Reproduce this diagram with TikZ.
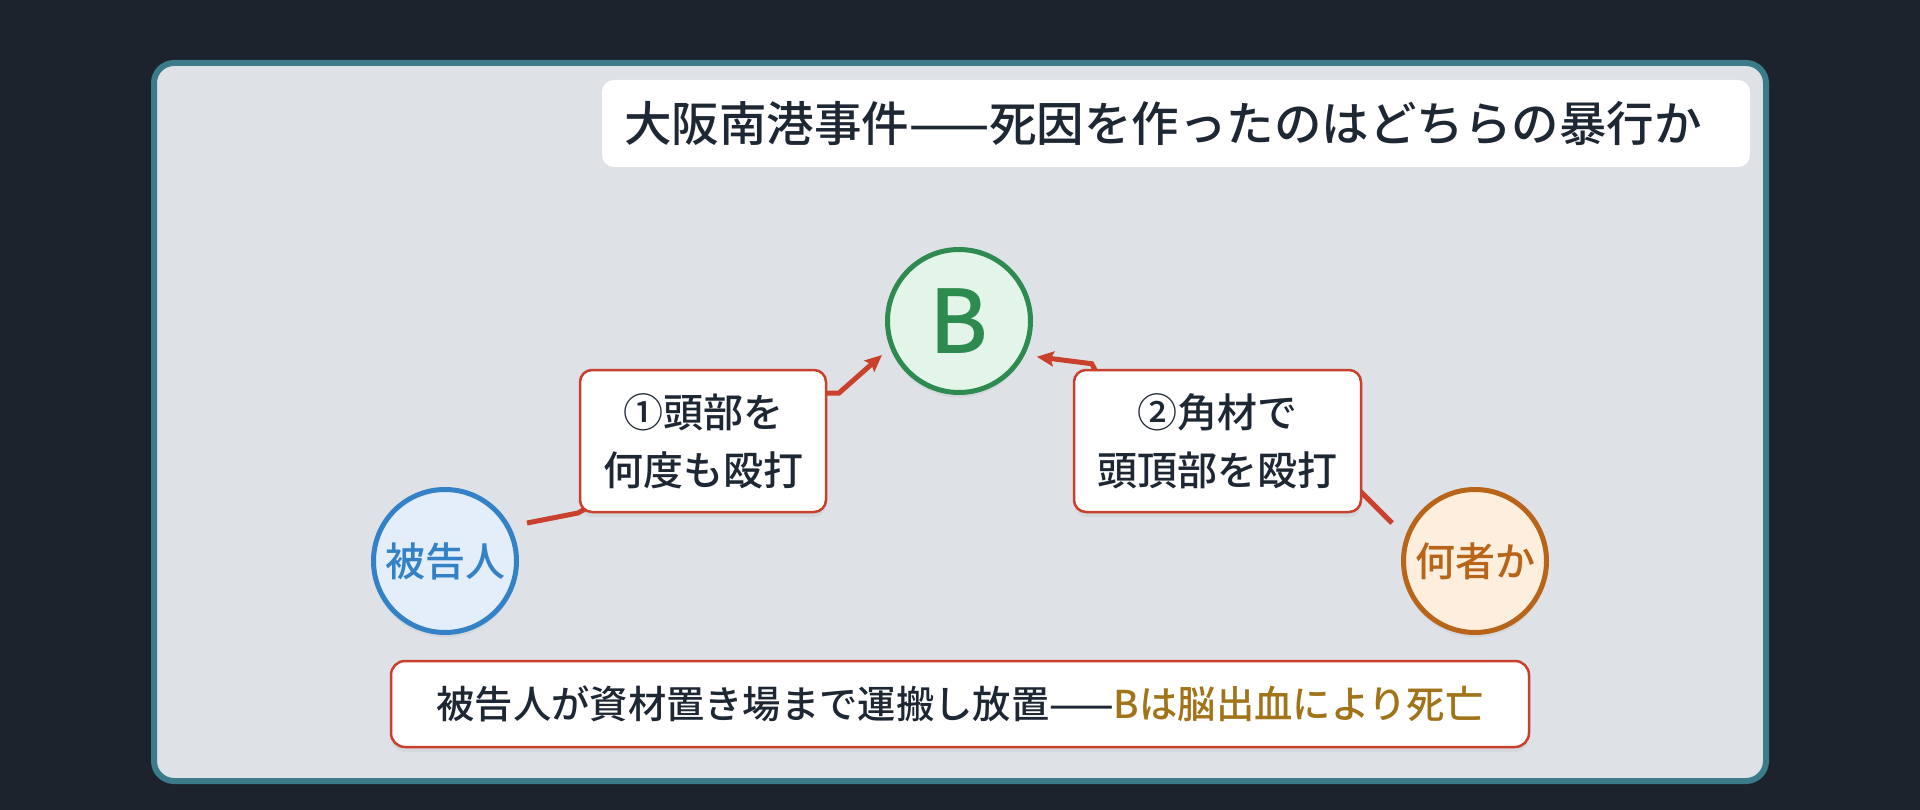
\documentclass[tikz,border=0pt]{standalone}
\usepackage{fontspec}
\IfFontExistsTF{Noto Sans CJK JP Medium}
  {\setmainfont{Noto Sans CJK JP Medium}}
  {\setmainfont{Noto Sans CJK JP}}
\usetikzlibrary{arrows.meta,shadows}
\definecolor{bgc}{HTML}{1C232D}
\definecolor{panel}{HTML}{DEE1E6}
\definecolor{framec}{HTML}{3B7B8A}
\definecolor{ink}{HTML}{1E2835}
\definecolor{redc}{HTML}{C9412C}
\definecolor{greenc}{HTML}{2E8B50}
\definecolor{greenf}{HTML}{E3F5E9}
\definecolor{bluec}{HTML}{3381C6}
\definecolor{bluef}{HTML}{E4EEFA}
\definecolor{orangec}{HTML}{B8651A}
\definecolor{orangef}{HTML}{FDEEDD}
\definecolor{goldc}{HTML}{A27419}
\pgfdeclarelayer{back}
\pgfdeclarelayer{conn}
\pgfsetlayers{back,conn,main}
\begin{document}
\begin{tikzpicture}[x=1pt,y=-1pt,
  softshadow/.style={general shadow={fill=black,opacity=0.045,shadow xshift=0pt,shadow yshift=-5pt}},
  titlebox/.style={fill=white,rounded corners=12pt,minimum width=1148pt,minimum height=87pt,inner xsep=0pt,inner ysep=0pt,
    text width=1104pt,align=left,text=ink,font=\fontsize{47.5pt}{50pt}\selectfont},
  labelbox/.style={softshadow,draw=redc,line width=2.5pt,fill=white,rounded corners=12pt,minimum height=142pt,inner sep=0pt,
    align=center,text=ink,font=\fontsize{40pt}{58pt}\selectfont},
  notebox/.style={softshadow,draw=redc,line width=2.5pt,fill=white,rounded corners=14pt,minimum width=1138pt,minimum height=86pt,inner sep=0pt,
    text=ink,font=\fontsize{38.3pt}{44pt}\selectfont},
  person/.style={softshadow,circle,line width=5pt,minimum size=143pt,inner sep=0pt,font=\fontsize{40pt}{44pt}\selectfont},
  conn/.style={draw=redc,line width=5pt,line join=miter},
  arrowconn/.style={conn,-{Stealth[length=17pt,width=15pt,inset=3pt]}}
]
\begin{pgfonlayer}{back}
\fill[bgc] (0,0) rectangle (1920,810);
\draw[framec,line width=6pt,fill=panel,rounded corners=20pt] (154,63) rectangle (1766,781);
\end{pgfonlayer}
\useasboundingbox (0,0) rectangle (1920,810);

\node[titlebox] (title) at (1176,123.5) {大阪南港事件——死因を作ったのはどちらの暴行か};

\node[person,draw=greenc,fill=greenf,text=greenc,font=\fontsize{88pt}{90pt}\selectfont] (B) at (959,321) {B};
\node[person,draw=bluec,fill=bluef,text=bluec] (def) at (445,561) {被告人};
\node[person,draw=orangec,fill=orangef,text=orangec] (unk) at (1475,561) {何者か};

\node[labelbox,minimum width=246pt] (box1) at (703,441) {①頭部を\\何度も殴打};
\node[labelbox,minimum width=287pt] (box2) at (1217.5,441) {②角材で\\頭頂部を殴打};

\node[notebox] (note) at (960,704) {被告人が資材置き場まで運搬し放置——\textcolor{goldc}{Bは脳出血により死亡}};

\begin{pgfonlayer}{conn}
  % defendant -> B
  \draw[conn] (def) ++(82,-38) -- ++(51,-10) -- (box1.center);
  \draw[arrowconn] (box1.center) ++(110,-48) -- ++(26,0) -- ++(43,-38);
  % unknown -> B
  \draw[conn] (unk) ++(-83,-38) -- ++(-30,-30) -- ++(-30,-30);
  \draw[arrowconn] (box2.north west) ++(28,12) -- ++(-9,-17) -- ++(-55,-7);
\end{pgfonlayer}
\end{tikzpicture}
\end{document}
